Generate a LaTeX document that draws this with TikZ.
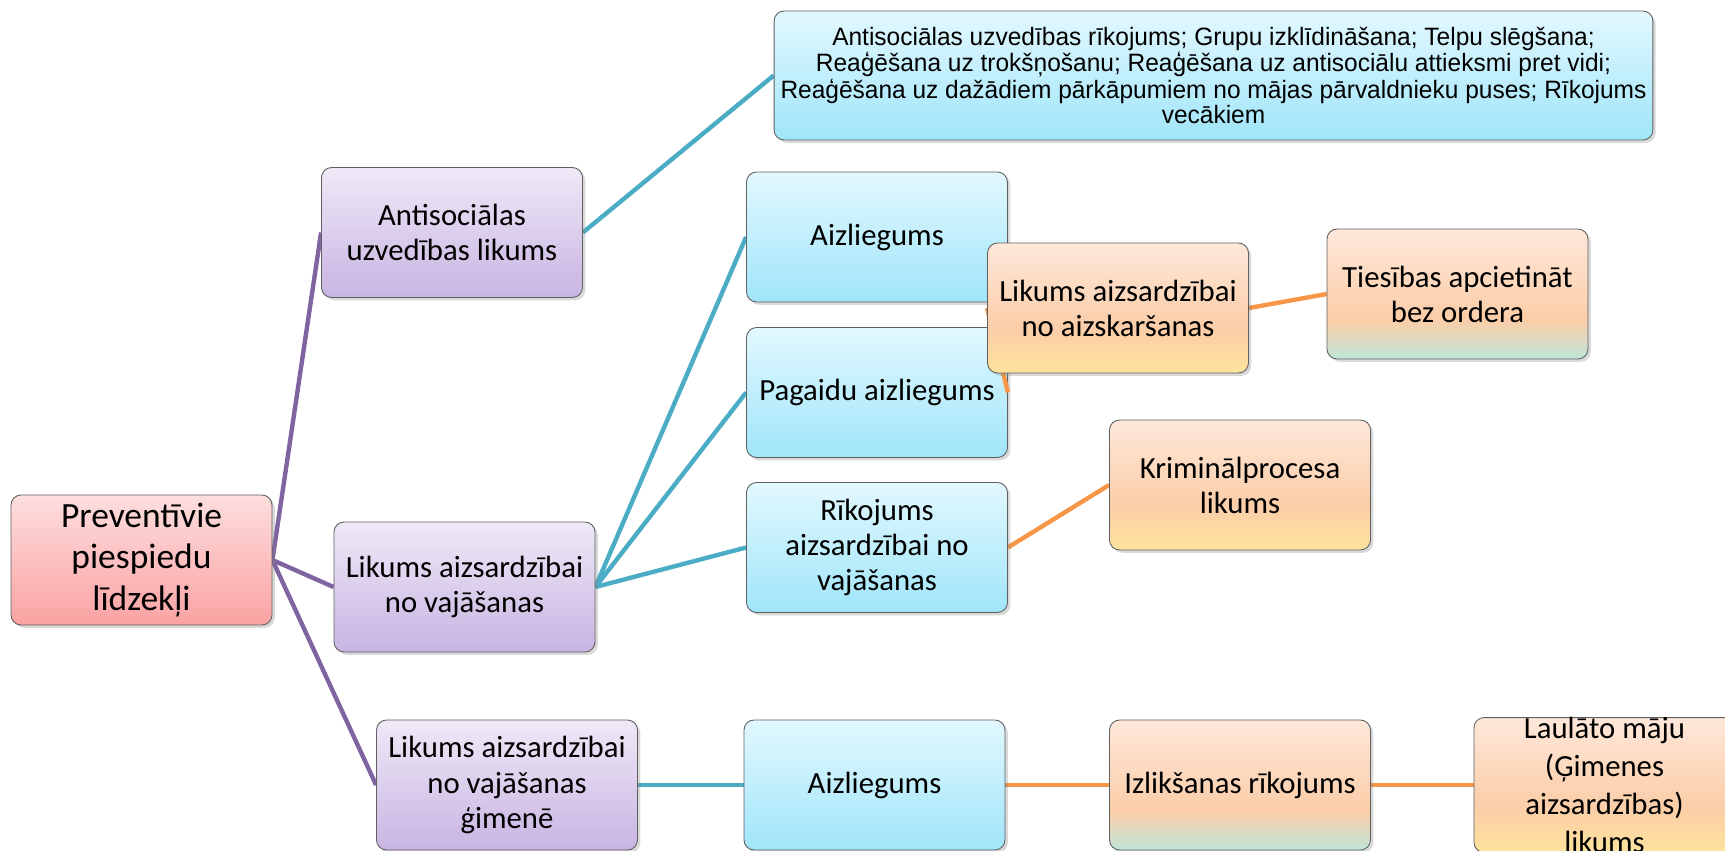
\documentclass[tikz,border=0pt]{standalone}
\usepackage{fontspec}
\setmainfont{Carlito}
\newfontfamily\arialfont[FakeStretch=0.975]{Liberation Sans}
\usetikzlibrary{shadows}

\definecolor{rootTop}{HTML}{FDDEDE}
\definecolor{rootBot}{HTML}{FBA2A2}
\definecolor{purTop}{HTML}{EFE9F7}
\definecolor{purBot}{HTML}{C8B4E2}
\definecolor{bluTop}{HTML}{E2F8FE}
\definecolor{bluBot}{HTML}{A0E5FA}
\definecolor{orTop}{HTML}{FEE8DA}
\definecolor{orMid}{HTML}{FBCDA8}
\definecolor{orBot}{HTML}{FDE39C}
\definecolor{orGrn}{HTML}{BFE6D8}
\definecolor{purLine}{HTML}{8064A2}
\definecolor{bluLine}{HTML}{4BACC6}
\definecolor{orLine}{HTML}{F79646}

\pgfdeclareverticalshading{orshade}{100bp}{color(0bp)=(orBot); color(25bp)=(orBot); color(42bp)=(orMid); color(75bp)=(orTop); color(100bp)=(orTop)}
\pgfdeclareverticalshading{grnshade}{100bp}{color(0bp)=(orGrn); color(25bp)=(orGrn); color(40bp)=(orMid); color(75bp)=(orTop); color(100bp)=(orTop)}

\pgfdeclarelayer{background}
\pgfdeclarelayer{front}
\pgfsetlayers{background,main,front}

\tikzset{
  box/.style={rounded corners=0.2cm, draw=gray!75!black, line width=0.5pt,
    minimum width=5.22cm, minimum height=2.6cm, inner sep=0pt, align=center,
    font=\fontsize{17.5}{20}\selectfont,
    drop shadow={shadow xshift=1.6pt, shadow yshift=-1.6pt, opacity=0.3}},
  rootbox/.style={box, top color=rootTop, bottom color=rootBot, font=\fontsize{20.2}{23.8}\selectfont},
  purbox/.style={box, top color=purTop, bottom color=purBot},
  blubox/.style={box, top color=bluTop, bottom color=bluBot},
  orbox/.style={box, shading=orshade},
  grnbox/.style={box, shading=grnshade},
  purlink/.style={purLine, line width=2.5pt},
  blulink/.style={bluLine, line width=2.5pt},
  orlink/.style={orLine, line width=2.5pt}
}

\begin{document}
\begin{tikzpicture}[x=0.02cm, y=-0.02cm]
  \useasboundingbox (0,0) rectangle (1725,850);

  \node[rootbox] (root) at (141.5,560) {Preventīvie\\piespiedu\\līdzekļi};

  \node[purbox] (antisoc) at (452,232.5) {Antisociālas\\uzvedības likums};
  \node[purbox] (vajas) at (464.5,587) {Likums aizsardzībai\\no vajāšanas};
  \node[purbox] (gimene) at (507,785) {Likums aizsardzībai\\no vajāšanas\\ģimenē};

  \node[blubox, minimum width=17.58cm, minimum height=2.58cm,
    font=\arialfont\fontsize{14.3}{12.4}\selectfont] (rikojumi) at (1213.5,75.5)
    {Antisociālas uzvedības rīkojums; Grupu izklīdināšana; Telpu slēgšana;\\
     Reaģēšana uz trokšņošanu; Reaģēšana uz antisociālu attieksmi pret vidi;\\
     Reaģēšana uz dažādiem pārkāpumiem no mājas pārvaldnieku puses; Rīkojums\\
     vecākiem};

  \node[blubox] (aizl) at (877,237) {Aizliegums};
  \node[blubox] (pagaidu) at (877,392.5) {Pagaidu aizliegums};
  \node[blubox] (rikvaj) at (877,547.5) {Rīkojums\\aizsardzībai no\\vajāšanas};
  \node[blubox] (aizlgim) at (874.5,785) {Aizliegums};

  \begin{pgfonlayer}{front}
    \node[orbox] (aizsk) at (1118,308) {Likums aizsardzībai\\no aizskaršanas};
  \end{pgfonlayer}
  \node[grnbox] (apciet) at (1457.5,294) {Tiesības apcietināt\\bez ordera};
  \node[orbox] (krimpr) at (1240,485) {Kriminālprocesa\\likums};
  \node[grnbox] (izlik) at (1240,785) {Izlikšanas rīkojums};
  \node[orbox, font=\fontsize{17.5}{21.5}\selectfont] (laulato) at (1604.5,785)
    {Laulāto māju\\(Ģimenes\\aizsardzības)\\likums};

  \draw[orlink] (pagaidu.east) -- (aizsk.west);

  \begin{pgfonlayer}{background}
    \foreach \kid in {antisoc,vajas,gimene}
      \draw[purlink] (root.east) -- (\kid.west);
    \foreach \kid in {aizl,pagaidu,rikvaj}
      \draw[blulink] (vajas.east) -- (\kid.west);
    \draw[blulink] (antisoc.east) -- (rikojumi.west);
    \draw[blulink] (gimene.east) -- (aizlgim.west);
    \draw[orlink] (aizsk.east) -- (apciet.west);
    \draw[orlink] (rikvaj.east) -- (krimpr.west);
    \draw[orlink] (aizlgim.east) -- (izlik.west);
    \draw[orlink] (izlik.east) -- (laulato.west);
  \end{pgfonlayer}
\end{tikzpicture}
\end{document}
